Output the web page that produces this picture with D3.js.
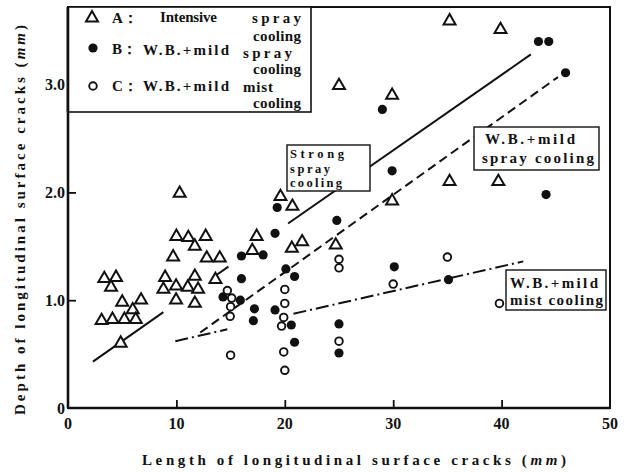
<!DOCTYPE html>
<html><head><meta charset="utf-8">
<script src="https://cdn.jsdelivr.net/npm/d3@7"></script>
<style>
html,body{margin:0;padding:0;background:#fff;}
text{font-family:"Liberation Serif","DejaVu Serif",serif;font-weight:bold;fill:#111;}
</style></head>
<body>
<svg id="chart" width="625" height="472"></svg>
<script>
// ---- data ----
const xTicks = [0, 10, 20, 30, 40, 50];
const xTickLabels = ["0", "10", "20", "30", "40", "50"];
const yTicks = [0, 1, 2, 3];
const yTickLabels = ["0", "1.0", "2.0", "3.0"];

// A: Intensive spray cooling (open triangles)
const seriesA = [
  [10.3,2.0],[10.0,1.6],[11.1,1.59],[11.7,1.51],[12.7,1.6],[9.7,1.41],[12.8,1.4],[14.0,1.4],
  [3.35,1.21],[4.43,1.22],[3.97,1.13],[5.0,0.99],[6.74,1.01],[5.97,0.92],[3.1,0.82],[4.1,0.83],
  [5.2,0.83],[6.25,0.83],[4.86,0.61],
  [8.96,1.22],[8.8,1.11],[9.97,1.14],[11.05,1.13],[11.7,1.23],[12.0,1.11],[9.97,1.01],[11.7,0.98],[13.6,1.2],
  [19.6,1.97],[20.7,1.88],[17.4,1.6],[17.0,1.47],[20.65,1.49],[21.6,1.55],[24.7,1.52],
  [35.2,3.6],[39.9,3.52],[25.0,3.0],[29.9,2.91],[35.2,2.11],[39.7,2.11],[29.9,1.93]
];
// B: W.B.+mild spray cooling (filled circles)
const seriesB = [
  [19.3,1.86],[19.1,1.62],[16.0,1.41],[18.0,1.42],[24.8,1.74],[20.1,1.29],[20.9,1.22],[16.0,1.2],
  [14.3,1.03],[15.9,1.0],[17.2,0.92],[17.1,0.81],[19.1,0.91],[20.6,0.77],[20.9,0.61],[25.0,0.78],
  [25.0,0.51],[43.4,3.4],[44.35,3.4],[45.9,3.11],[29.0,2.77],[29.9,2.2],[44.1,1.98],[30.1,1.31],[35.1,1.19]
];
// C: W.B.+mild mist cooling (open circles)
const seriesC = [
  [14.7,1.09],[15.1,1.02],[15.0,0.94],[14.96,0.85],[15.0,0.49],[20.0,1.1],[20.0,0.97],[19.9,0.84],
  [19.7,0.76],[19.9,0.52],[20.0,0.35],[25.0,1.38],[25.0,1.3],[25.0,0.62],[35.0,1.4],[30.0,1.15],[39.8,0.97]
];
// regression lines (visible pieces, data units)
const lineA = [[[2.3,0.43],[8.8,0.889]],[[13.4,1.213],[14.8,1.312]],[[20.3,1.712],[42.7,3.28]]];
const lineB = [[[12.2,0.70],[45.2,3.07]]];
const lineC = [[[9.9,0.62],[14.7,0.73]],[[20.8,0.874],[42.0,1.36]]];

const legendLabels = ["A\uFF1A", "B\uFF1A", "C\uFF1A"];

// ---- chart ----
const svg = d3.select("#chart");
const x = d3.scaleLinear().domain([0, 50]).range([68, 610]);
const y = d3.scaleLinear().domain([0, 3.72]).range([408, 7]);

// frame
svg.append("rect").attr("x", x(0)).attr("y", y(3.72)).attr("width", x(50) - x(0)).attr("height", y(0) - y(3.72))
  .attr("fill", "none").attr("stroke", "#111").attr("stroke-width", 2);
svg.append("line").attr("x1", x(0)).attr("x2", x(0)).attr("y1", y(3.72)).attr("y2", y(0)).attr("stroke", "#111").attr("stroke-width", 2.6);
svg.append("line").attr("x1", x(0)).attr("x2", x(50)).attr("y1", y(0)).attr("y2", y(0)).attr("stroke", "#111").attr("stroke-width", 2.6);

// axes (inward ticks)
const xAxis = d3.axisTop(x).tickValues(xTicks.slice(1, -1)).tickSize(8).tickFormat("");
svg.append("g").attr("transform", `translate(0,${y(0)})`).call(xAxis)
  .call(g => g.select(".domain").remove()).selectAll("line").attr("stroke", "#111").attr("stroke-width", 1.8);
const yAxis = d3.axisRight(y).tickValues(yTicks.slice(1)).tickSize(8).tickFormat("");
svg.append("g").attr("transform", `translate(${x(0)},0)`).call(yAxis)
  .call(g => g.select(".domain").remove()).selectAll("line").attr("stroke", "#111").attr("stroke-width", 1.8);

// tick labels
svg.append("g").selectAll("text").data(xTicks).join("text")
  .attr("x", d => x(d)).attr("y", 423).attr("text-anchor", "middle").attr("dominant-baseline", "central")
  .style("font-size", "16px").text((d, i) => xTickLabels[i]);
svg.append("g").selectAll("text").data(yTicks).join("text")
  .attr("x", 65).attr("y", d => y(d)).attr("text-anchor", "end").attr("dominant-baseline", "central")
  .style("font-size", "16px").text((d, i) => yTickLabels[i]);

// axis titles
const xt = svg.append("text").attr("x", 354).attr("y", 460).attr("text-anchor", "middle").attr("dominant-baseline", "central")
  .style("font-size", "15px").attr("textLength", 424).attr("lengthAdjust", "spacing");
xt.append("tspan").text("Length of longitudinal surface cracks (");
xt.append("tspan").style("font-style", "italic").text("mm");
xt.append("tspan").text(")");
const yt = svg.append("text").attr("transform", "translate(20,220) rotate(-90)").attr("text-anchor", "middle").attr("dominant-baseline", "central")
  .style("font-size", "15px").attr("textLength", 390).attr("lengthAdjust", "spacing");
yt.append("tspan").text("Depth of longitudinal surface cracks (");
yt.append("tspan").style("font-style", "italic").text("mm");
yt.append("tspan").text(")");

// regression lines
const lg = d3.line().x(d => x(d[0])).y(d => y(d[1]));
svg.append("g").selectAll("path").data(lineA).join("path").attr("d", lg).attr("fill", "none").attr("stroke", "#111").attr("stroke-width", 2);
svg.append("g").selectAll("path").data(lineB).join("path").attr("d", lg).attr("fill", "none").attr("stroke", "#111").attr("stroke-width", 2).attr("stroke-dasharray", "9 5");
svg.append("g").selectAll("path").data(lineC).join("path").attr("d", lg).attr("fill", "none").attr("stroke", "#111").attr("stroke-width", 2).attr("stroke-dasharray", "13 4 2 4");

// markers
const tri = d3.symbol().type(d3.symbolTriangle).size(62);
function drawTri(g, data) {
  g.selectAll("path").data(data).join("path").attr("d", tri)
    .attr("transform", d => `translate(${x(d[0])},${y(d[1]) + 1})`)
    .attr("fill", "#fff").attr("stroke", "#111").attr("stroke-width", 2).attr("stroke-linejoin", "miter");
}
drawTri(svg.append("g"), seriesA);
svg.append("g").selectAll("circle").data(seriesC).join("circle")
  .attr("cx", d => x(d[0])).attr("cy", d => y(d[1])).attr("r", 3.8)
  .attr("fill", "#fff").attr("stroke", "#111").attr("stroke-width", 1.9);
svg.append("g").selectAll("circle").data(seriesB).join("circle")
  .attr("cx", d => x(d[0])).attr("cy", d => y(d[1])).attr("r", 4.6).attr("fill", "#111");

// legend
const leg = svg.append("g");
leg.append("rect").attr("x", x(0)).attr("y", y(3.72)).attr("width", 311 - x(0)).attr("height", 112 - y(3.72))
  .attr("fill", "#fff").attr("stroke", "#111").attr("stroke-width", 1.6);
leg.append("line").attr("x1", x(0)).attr("x2", x(0)).attr("y1", y(3.72)).attr("y2", 112).attr("stroke", "#111").attr("stroke-width", 2.6);
drawTri(leg.append("g").attr("transform", `translate(${92 - x(0)},${17 - y(0)})`), [[0, 0]]);
leg.append("circle").attr("cx", 93).attr("cy", 48).attr("r", 4.6).attr("fill", "#111");
leg.append("circle").attr("cx", 93).attr("cy", 86).attr("r", 3.8).attr("fill", "#fff").attr("stroke", "#111").attr("stroke-width", 1.9);
function lt(tx, ty, str, w, anchor) {
  const t = leg.append("text").attr("x", tx).attr("y", ty).attr("dominant-baseline", "central")
    .attr("text-anchor", anchor || "start").style("font-size", "15px").text(str);
  if (w) t.attr("textLength", w).attr("lengthAdjust", "spacing");
  return t;
}
lt(112, 18, legendLabels[0]);
lt(160, 17, "Intensive", 57);
lt(252, 18, "spray", 49);
lt(253, 36, "cooling", 48);
lt(112, 49, legendLabels[1]);
lt(143, 50, "W.B.+mild", 86);
lt(243, 53, "spray", 49);
lt(253, 69, "cooling", 48);
lt(112, 86, legendLabels[2]);
lt(143, 86, "W.B.+mild", 86);
lt(243, 87, "mist", 30);
lt(253, 103, "cooling", 48);

// annotations
function note(bx, by, bw, bh, fs, lines) {
  const g = svg.append("g");
  g.append("rect").attr("x", bx).attr("y", by).attr("width", bw).attr("height", bh)
    .attr("fill", "#fff").attr("stroke", "#111").attr("stroke-width", 1.4);
  lines.forEach(l => {
    g.append("text").attr("x", l[0]).attr("y", l[1]).attr("dominant-baseline", "central")
      .style("font-size", fs + "px").attr("textLength", l[3]).attr("lengthAdjust", "spacing").text(l[2]);
  });
}
note(287, 145, 83, 46, 12.5, [[290, 154, "Strong", 54], [290, 168.5, "spray", 40], [290, 183, "cooling", 52]]);
note(474, 127, 125, 43, 15, [[485, 139, "W.B.+mild", 90], [482, 158, "spray cooling", 112]]);
note(506, 270, 100, 40, 15, [[510, 283, "W.B.+mild", 88], [510, 300, "mist cooling", 93]]);
</script>
</body></html>
